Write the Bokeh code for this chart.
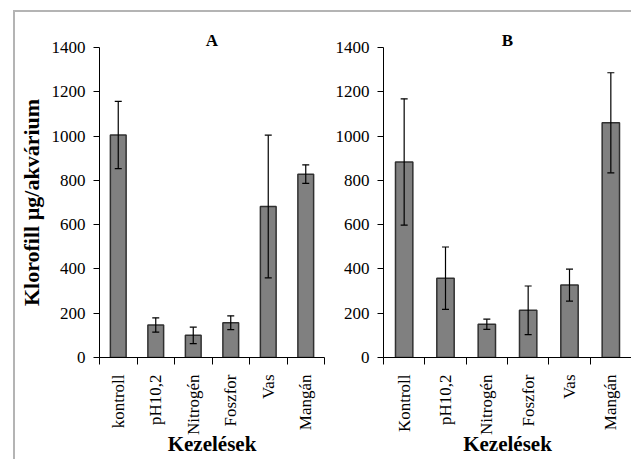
from bokeh.plotting import figure
from bokeh.models import ColumnDataSource, Whisker, TeeHead, FixedTicker, Range1d
from bokeh.layouts import row
from bokeh.embed import file_html
from bokeh.resources import INLINE

cats_a = ["kontroll", "pH10,2", "Nitrogén", "Foszfor", "Vas", "Mangán"]
vals_a = [1005, 147, 100, 157, 682, 828]
err_a = [152, 32, 37, 31, 322, 42]

cats_b = ["Kontroll", "pH10,2", "Nitrogén", "Foszfor", "Vas", "Mangán"]
vals_b = [883, 358, 150, 213, 327, 1060]
err_b = [285, 141, 23, 110, 72, 226]

y_ticks = [0, 200, 400, 600, 800, 1000, 1200, 1400]
title_a = "A"
title_b = "B"
y_title = "Klorofill µg/akvárium"
x_title = "Kezelések"

FONT = "Liberation Serif"
Y_MAX = 1400


def panel(cats, vals, errs, title, width, left, right, ylabel):
    n = len(cats)
    xs = [i + 0.5 for i in range(n)]
    src = ColumnDataSource(dict(
        x=xs, top=vals,
        upper=[v + e for v, e in zip(vals, errs)],
        lower=[v - e for v, e in zip(vals, errs)],
    ))
    p = figure(width=width, height=447, output_backend="svg", toolbar_location=None,
               x_range=Range1d(0, n), y_range=Range1d(0, Y_MAX),
               min_border_left=left, min_border_right=right,
               min_border_top=35, min_border_bottom=102)
    p.title.text = title
    p.title.align = "center"
    p.title.text_font = FONT
    p.title.text_font_size = "17px"
    p.title.text_font_style = "bold"
    p.title.text_color = "black"
    p.title.standoff = -4
    p.outline_line_color = None
    p.grid.visible = False
    p.background_fill_color = "white"
    p.border_fill_color = None

    p.vbar(x="x", top="top", bottom=0, width=0.42, source=src,
           fill_color="#808080", line_color="#303030", line_width=1.5)
    w = Whisker(source=src, base="x", upper="upper", lower="lower",
                line_color="black", line_width=1.2, level="annotation",
                upper_head=TeeHead(size=7, line_color="black", line_width=1.2),
                lower_head=TeeHead(size=7, line_color="black", line_width=1.2))
    p.add_layout(w)

    xa = p.xaxis[0]
    xa.ticker = FixedTicker(ticks=xs, minor_ticks=list(range(n + 1)))
    xa.major_label_overrides = {x: c for x, c in zip(xs, cats)}
    xa.major_label_orientation = 3.14159265 / 2
    xa.major_tick_line_color = None
    xa.major_tick_out = 0
    xa.major_tick_in = 0
    xa.minor_tick_line_color = "black"
    xa.minor_tick_out = 7
    xa.minor_tick_in = 0
    xa.major_label_standoff = 10
    xa.major_label_text_font = FONT
    xa.major_label_text_font_size = "17px"
    xa.major_label_text_color = "black"
    xa.axis_line_color = "black"
    xa.axis_label = x_title
    xa.axis_label_text_font = FONT
    xa.axis_label_text_font_size = "21px"
    xa.axis_label_text_font_style = "bold"
    xa.axis_label_text_color = "black"
    xa.axis_label_standoff = -6

    ya = p.yaxis[0]
    ya.ticker = FixedTicker(ticks=y_ticks, minor_ticks=[])
    ya.major_tick_out = 6
    ya.major_tick_in = 0
    ya.major_label_standoff = 8
    ya.major_label_text_font = FONT
    ya.major_label_text_font_size = "17px"
    ya.major_label_text_color = "black"
    ya.axis_line_color = "black"
    ya.major_tick_line_color = "black"
    if ylabel:
        ya.axis_label = ylabel
        ya.axis_label_text_font = FONT
        ya.axis_label_text_font_size = "22px"
        ya.axis_label_text_font_style = "bold"
        ya.axis_label_text_color = "black"
        ya.axis_label_standoff = 5
    return p


pa = panel(cats_a, vals_a, err_a, title_a, 313, 78, 4, y_title)
pb = panel(cats_b, vals_b, err_b, title_b, 303, 55, 0, None)

layout = row(pa, pb, margin=(10, 0, 0, 13),
             styles={"border-left": "2px solid #b4b4b4", "border-top": "2px solid #b4b4b4"})

open("out.html", "w").write(file_html(layout, INLINE))
